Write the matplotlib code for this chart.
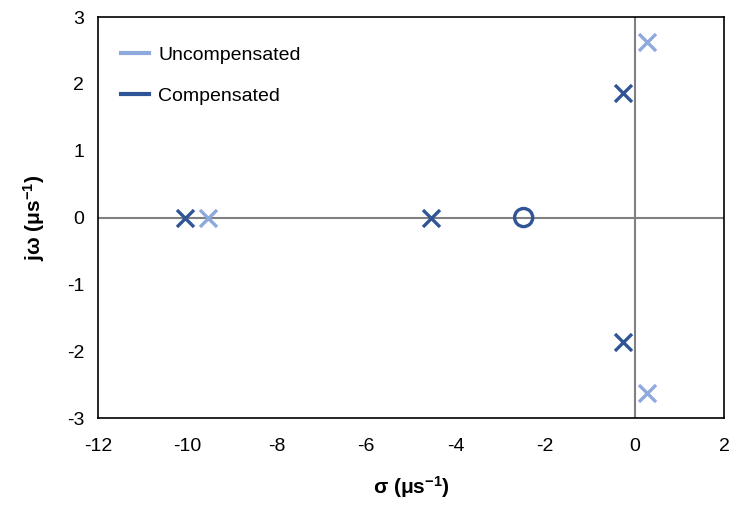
import matplotlib
matplotlib.use("Agg")
import matplotlib.pyplot as plt
from matplotlib.lines import Line2D

plt.rcParams['font.family'] = ['Liberation Sans', 'DejaVu Sans']
plt.rcParams['axes.unicode_minus'] = False
plt.rcParams['mathtext.default'] = 'regular'

# pole / zero locations (us^-1)
unc_re = [-9.55, 0.28, 0.28]
unc_im = [0.0, 2.62, -2.62]
comp_re = [-10.05, -4.55, -0.26, -0.26]
comp_im = [0.0, 0.0, 1.86, -1.86]
zero_re = [-2.48]
zero_im = [0.0]

light = '#8EA9DB'
dark = '#2F5597'

fig = plt.figure(figsize=(7.29, 5.08), dpi=100)
ax = fig.add_axes([0.1344, 0.177, 0.8587, 0.7895])

ax.axhline(0, color='#808080', lw=1.5, zorder=1)
ax.axvline(0, color='#808080', lw=1.5, zorder=1)

ax.scatter(unc_re, unc_im, marker='x', s=150, color=light, linewidths=2.4, zorder=3)
ax.scatter(comp_re, comp_im, marker='x', s=150, color=dark, linewidths=2.4, zorder=3)
ax.scatter(zero_re, zero_im, marker='o', s=170, facecolors='none', edgecolors=dark, linewidths=2.4, zorder=3)

ax.set_xlim(-12, 2)
ax.set_ylim(-3, 3)
ax.set_xticks(range(-12, 3, 2))
ax.set_yticks(range(-3, 4))
ax.tick_params(length=0, labelsize=14)
ax.tick_params(axis='x', pad=14)
ax.tick_params(axis='y', pad=10)
for s in ax.spines.values():
    s.set_linewidth(1.2)

ax.set_xlabel('σ (μs$^{-1}$)', fontsize=15, fontweight='bold', labelpad=14)
ax.set_ylabel('jω (μs$^{-1}$)', fontsize=15, fontweight='bold', labelpad=14)

handles = [Line2D([], [], color=light, lw=3), Line2D([], [], color=dark, lw=3)]
ax.legend(handles, ['Uncompensated', 'Compensated'], loc='upper left', frameon=False,
          fontsize=14, handlelength=1.4, handletextpad=0.5, labelspacing=1.2,
          borderaxespad=0.8, bbox_to_anchor=(0.0, 0.985))

fig.savefig('out.png', dpi=100)
